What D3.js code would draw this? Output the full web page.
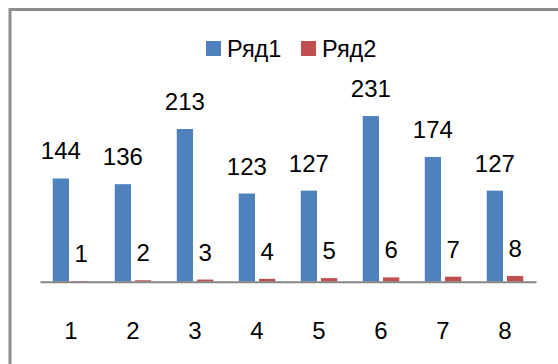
<!DOCTYPE html>
<html>
<head>
<meta charset="utf-8">
<script src="https://cdn.jsdelivr.net/npm/d3@7"></script>
<style>
  html, body { margin: 0; padding: 0; background: #fff; overflow: hidden; }
  svg { display: block; }
  text { font-family: "Liberation Sans", Arial, sans-serif; fill: #000; }
</style>
</head>
<body>
<svg id="chart" width="558" height="364"></svg>
<script>
const categories = ["1", "2", "3", "4", "5", "6", "7", "8"];
const seriesNames = ["Ряд1", "Ряд2"];
const series1 = [144, 136, 213, 123, 127, 231, 174, 127];
const series2 = [1, 2, 3, 4, 5, 6, 7, 8];
const colors = ["#4F81BD", "#C0504D"];

const svg = d3.select("#chart");
const W = 558, H = 364;

// outer frame (extends beyond the visible window on right and bottom)
svg.append("rect")
  .attr("x", 10).attr("y", 9.5)
  .attr("width", 620).attr("height", 420)
  .attr("fill", "#fff")
  .attr("stroke", "#8c8c8c")
  .attr("stroke-width", 3);

const baseY = 281.7;
const x0 = d3.scaleBand().domain(categories).range([40, 536]).paddingInner(0).paddingOuter(0);
const x1 = d3.scaleBand().domain(seriesNames).range([0, x0.bandwidth()])
  .paddingInner(0.1975).paddingOuter(0.63);
const y = d3.scaleLinear().domain([0, 250]).range([baseY, baseY - 179.25]);

const data = categories.map((c, i) => ({ cat: c, vals: [series1[i], series2[i]] }));

const groups = svg.append("g").selectAll("g")
  .data(data).join("g")
  .attr("transform", d => `translate(${x0(d.cat)},0)`);

groups.selectAll("rect")
  .data(d => d.vals.map((v, j) => ({ name: seriesNames[j], v, j })))
  .join("rect")
  .attr("x", d => x1(d.name))
  .attr("width", x1.bandwidth())
  .attr("y", d => y(d.v))
  .attr("height", d => baseY - y(d.v))
  .attr("fill", d => colors[d.j]);

groups.selectAll("text.val")
  .data(d => d.vals.map((v, j) => ({ name: seriesNames[j], v, j })))
  .join("text")
  .attr("class", "val")
  .attr("x", d => x1(d.name) + x1.bandwidth() / 2)
  .attr("y", d => y(d.v) - 19)
  .attr("text-anchor", "middle")
  .attr("font-size", 24)
  .text(d => d.v);

// category axis
const axis = d3.axisBottom(x0).tickSize(0).tickPadding(0);
const gAxis = svg.append("g").attr("transform", `translate(0,${baseY})`).call(axis);
gAxis.select(".domain").attr("stroke", "#868686").attr("stroke-width", 2);
gAxis.selectAll(".tick text")
  .attr("font-size", 24)
  .attr("font-family", "Liberation Sans, Arial, sans-serif")
  .attr("fill", "#000")
  .attr("dy", null)
  .attr("y", 339 - baseY);

// legend
const legendX = [206, 301];
const lg = svg.append("g").selectAll("g").data(seriesNames).join("g")
  .attr("transform", (d, i) => `translate(${legendX[i]},41)`);
lg.append("rect").attr("width", 15).attr("height", 15).attr("fill", (d, i) => colors[i]);
lg.append("text").attr("x", 21).attr("y", 15.5).attr("font-size", 23.5).text(d => d);
</script>
</body>
</html>
